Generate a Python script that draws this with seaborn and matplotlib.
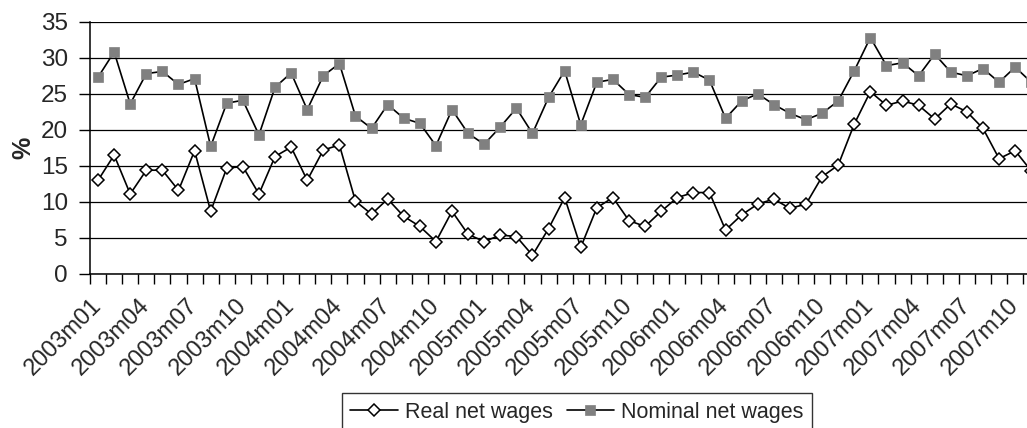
import numpy as np
import pandas as pd
import seaborn as sns
import matplotlib
matplotlib.use("Agg")
import matplotlib.pyplot as plt
import matplotlib.transforms as mtransforms
from matplotlib.ticker import FixedLocator

# Monthly year-on-year growth of net wages, 2003m01 onwards (%)
months = [f"{y}m{m:02d}" for y in range(2003, 2008) for m in range(1, 13)]

real_net_wages = [
    13.0, 16.5, 11.1, 14.4, 14.4, 11.6, 17.1, 8.7, 14.7, 14.9, 11.1, 16.3,
    17.6, 13.0, 17.2, 17.9, 10.1, 8.3, 10.4, 8.0, 6.6, 4.5, 8.7, 5.5,
    4.5, 5.4, 5.2, 2.6, 6.3, 10.6, 3.7, 9.2, 10.6, 7.4, 6.6, 8.7,
    10.6, 11.3, 11.3, 6.1, 8.2, 9.7, 10.4, 9.1, 9.7, 13.5, 15.1, 20.8,
    25.3, 23.4, 24.0, 23.4, 21.5, 23.6, 22.5, 20.2, 16.0, 17.1, 14.3,
]
nominal_net_wages = [
    27.3, 30.8, 23.6, 27.8, 28.1, 26.3, 27.1, 17.7, 23.7, 24.1, 19.3, 25.9,
    27.9, 22.8, 27.5, 29.2, 21.9, 20.2, 23.5, 21.6, 20.9, 17.8, 22.8, 19.5,
    18.0, 20.4, 23.0, 19.5, 24.5, 28.2, 20.7, 26.6, 27.0, 24.9, 24.5, 27.3,
    27.6, 28.0, 26.9, 21.6, 24.0, 25.0, 23.5, 22.3, 21.4, 22.3, 24.0, 28.2,
    32.8, 28.9, 29.3, 27.5, 30.5, 28.0, 27.5, 28.5, 26.6, 28.7, 26.6,
]
y_ticks = [0, 5, 10, 15, 20, 25, 30, 35]

n = len(real_net_wages)
df = pd.DataFrame({
    "pos": np.arange(n),
    "month": months[:n],
    "Real net wages": real_net_wages,
    "Nominal net wages": nominal_net_wages,
})

sns.set_theme(style="white")
plt.rcParams["font.family"] = ["Liberation Sans", "DejaVu Sans"]

W, H = 1027, 428
fig = plt.figure(figsize=(W / 100, H / 100), dpi=100)
# plot area runs past the right edge of the canvas
step = 16.09
ax = fig.add_axes([90 / W, (H - 274) / H, len(months) * step / W, (274 - 21.7) / H])

sns.lineplot(data=df, x="pos", y="Real net wages", ax=ax, color="black",
             linewidth=1.2, marker="D", markersize=6.6, markerfacecolor="white",
             markeredgecolor="black", markeredgewidth=1.1,
             label="Real net wages", clip_on=False, zorder=4)
sns.lineplot(data=df, x="pos", y="Nominal net wages", ax=ax, color="black",
             linewidth=1.2, marker="s", markersize=7, markerfacecolor="#808080",
             markeredgecolor="#808080", markeredgewidth=0.5,
             label="Nominal net wages", clip_on=False, zorder=4)

ax.set_xlim(-0.5, len(months) - 0.5)
ax.set_ylim(0, 35)
ax.set_yticks(y_ticks)
ax.set_yticklabels([str(v) for v in y_ticks], fontsize=17.5)
ax.grid(axis="y", color="black", linewidth=0.9)
ax.grid(axis="x", visible=False)
ax.set_axisbelow(True)

label_pos = np.arange(0, len(months), 3)
ax.set_xticks(label_pos)
ax.set_xticklabels([months[i] for i in label_pos], rotation=45, ha="right",
                   va="center", rotation_mode="anchor", fontsize=17)
shift = mtransforms.ScaledTranslation(-5 / 100, 0, fig.dpi_scale_trans)
for lbl in ax.get_xticklabels():
    lbl.set_transform(lbl.get_transform() + shift)
ax.xaxis.set_minor_locator(FixedLocator(np.arange(-0.5, len(months), 1)))
ax.tick_params(axis="x", which="major", length=0, pad=20)
ax.tick_params(axis="x", which="minor", length=7, width=1, color="black",
               direction="out", bottom=True)
ax.tick_params(axis="y", length=8, width=1, color="black", direction="out",
               left=True, pad=8)

for side in ("top", "right"):
    ax.spines[side].set_visible(False)
for side in ("left", "bottom"):
    ax.spines[side].set_color("black")
    ax.spines[side].set_linewidth(1.1)

ax.set_xlabel("")
ax.set_ylabel("%", fontsize=18, fontweight="bold", labelpad=4)

leg = ax.legend(loc="upper center", bbox_to_anchor=(577 / W, (H - 393) / H),
                bbox_transform=fig.transFigure, ncol=2, fontsize=15.5,
                frameon=True, fancybox=False, edgecolor="black",
                handlelength=2.2, handletextpad=0.33, columnspacing=0.65,
                borderpad=0.4, borderaxespad=0)
leg.get_frame().set_linewidth(1.0)

fig.savefig("out.png", dpi=100)
